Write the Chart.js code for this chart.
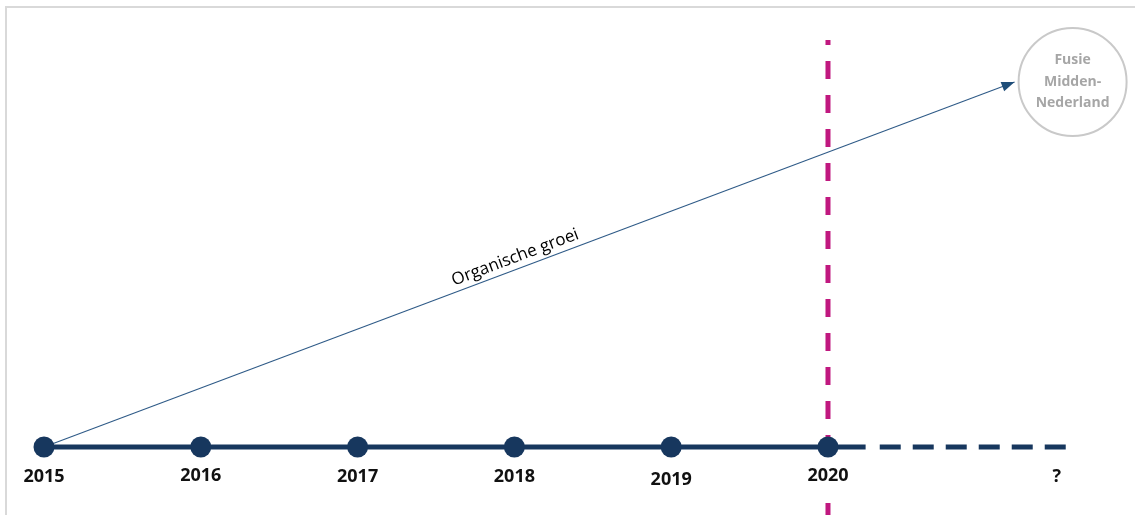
<!DOCTYPE html>
<html><head><meta charset="utf-8">
<script src="https://cdn.jsdelivr.net/npm/chart.js@4"></script>
<style>html,body{margin:0;padding:0;background:#fff;overflow:hidden}</style>
</head><body><canvas id="c" width="1135" height="515"></canvas>
<script>
// ---- data ----
const years = [2015, 2016, 2017, 2018, 2019, 2020];
const yearLabels = ['2015', '2016', '2017', '2018', '2019', '2020'];
const timelineValues = [0, 0, 0, 0, 0, 0];
const solidEndYear = 2020.24;
const futureSpan = [2020.33, 2021.56];
const futureTickYear = 2021.46;
const futureLabel = '?';
const growthX = [2015, 2021.19];
const growthY = [0, 365];
const growthLabel = 'Organische groei';
const mergerX = [2021.56];
const mergerY = [365];
const mergerLabel = ['Fusie', 'Midden-', 'Nederland'];
const todayYear = 2020;
const todayRange = [407, -68];

const navy = '#17375E';
const pts = years.map((y, i) => ({ x: y, y: timelineValues[i] }));
const solid = pts.concat([{ x: solidEndYear, y: 0 }]);

const deco = {
  id: 'deco',
  beforeDraw(chart) {
    const c = chart.ctx;
    c.save();
    c.strokeStyle = '#d9d9d9';
    c.lineWidth = 2;
    c.beginPath();
    c.moveTo(6, 515); c.lineTo(6, 7); c.lineTo(1135, 7);
    c.stroke();
    c.restore();
  },
  afterDatasetsDraw(chart) {
    const c = chart.ctx, xs = chart.scales.x, ys = chart.scales.y;
    c.save();
    // arrow head
    const x0 = xs.getPixelForValue(growthX[0]), y0 = ys.getPixelForValue(growthY[0]);
    const x1 = xs.getPixelForValue(growthX[1]), y1 = ys.getPixelForValue(growthY[1]);
    const a = Math.atan2(y1 - y0, x1 - x0);
    c.fillStyle = '#1F4E79';
    c.translate(x1, y1); c.rotate(a);
    c.beginPath(); c.moveTo(0, 0); c.lineTo(-13, -5); c.lineTo(-13, 5); c.closePath(); c.fill();
    c.setTransform(1, 0, 0, 1, 0, 0);
    // growth label
    const mx = (x0 + x1) / 2 - 10, my = y0 + (y1 - y0) * ((mx - x0) / (x1 - x0));
    c.translate(mx, my); c.rotate(a);
    c.fillStyle = '#000';
    c.font = '17px "Open Sans"';
    c.textAlign = 'center'; c.textBaseline = 'bottom';
    c.fillText(growthLabel, 0, -3);
    c.setTransform(1, 0, 0, 1, 0, 0);
    // year labels
    c.font = 'bold 18px "Open Sans"';
    c.textAlign = 'center'; c.textBaseline = 'middle';
    const yb = ys.getPixelForValue(0);
    const dy = [30, 29, 30, 30, 33, 29];
    years.forEach((y, i) => {
      const px = xs.getPixelForValue(y);
      if (i === years.length - 1) { c.fillStyle = '#fff'; c.fillRect(px - 28, yb + 11, 56, 40); }
      c.fillStyle = '#111';
      c.fillText(yearLabels[i], px, yb + dy[i]);
    });
    c.fillText(futureLabel, xs.getPixelForValue(futureTickYear), yb + 30);
    // merger text
    c.font = 'bold 14px "Open Sans"';
    c.fillStyle = '#A6A6A6';
    const cx = xs.getPixelForValue(mergerX[0]), cy = ys.getPixelForValue(mergerY[0]);
    mergerLabel.forEach((t, i) => c.fillText(t, cx, cy + (i - 1) * 21.5));
    c.restore();
  }
};

new Chart(document.getElementById('c'), {
  type: 'scatter',
  data: {
    datasets: [
      { data: pts, showLine: false, pointRadius: 10.5, pointHoverRadius: 10.5, pointBackgroundColor: navy, pointBorderWidth: 0, clip: false },
      { data: solid, showLine: true, borderColor: navy, borderWidth: 5, pointRadius: 0, clip: false },
      { data: futureSpan.map(x => ({ x, y: 0 })), showLine: true, borderColor: navy, borderWidth: 5, borderDash: [21, 12], pointRadius: 0, clip: false },
      { data: growthX.map((x, i) => ({ x, y: growthY[i] })), showLine: true, borderColor: '#2E5A87', borderWidth: 1.1, pointRadius: 0, clip: false },
      { data: todayRange.map(v => ({ x: todayYear, y: v })), showLine: true, borderColor: '#C0187F', borderWidth: 5, borderDash: [18, 16], borderDashOffset: 13, pointRadius: 0, clip: false },
      { data: mergerX.map((x, i) => ({ x, y: mergerY[i] })), showLine: false, pointRadius: 54, pointHoverRadius: 54, pointBackgroundColor: '#fff', pointBorderColor: '#C9C9C9', pointBorderWidth: 2, clip: false }
    ]
  },
  options: {
    responsive: false,
    devicePixelRatio: 1,
    animation: false,
    events: [],
    layout: { padding: 0, autoPadding: false },
    plugins: { legend: { display: false }, tooltip: { enabled: false } },
    scales: {
      x: { type: 'linear', display: false, min: 2014.7194, max: 2021.958 },
      y: { type: 'linear', display: false, min: -68, max: 447 }
    }
  },
  plugins: [deco]
});
</script>
</body></html>
